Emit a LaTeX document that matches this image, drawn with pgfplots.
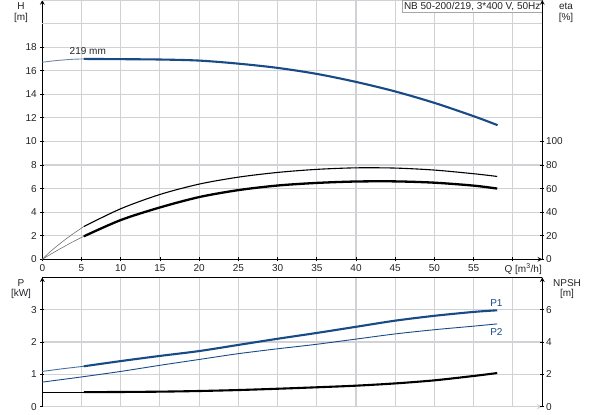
\documentclass[border=0pt]{standalone}
\usepackage{fontspec}
\setmainfont{Liberation Sans}
\usepackage{pgfplots}
\pgfplotsset{compat=1.18}

\definecolor{gridgray}{RGB}{208,210,213}
\definecolor{curveblue}{RGB}{24,74,134}
\definecolor{thinblue}{RGB}{110,135,170}
\definecolor{txt}{RGB}{35,35,40}

\pgfplotsset{
  pump/.style={
    scale only axis, width=500bp,
    xmin=0, xmax=63.75,
    tick align=outside, major tick length=4bp,
    tick style={black, line width=0.8bp},
    major grid style={line width=1.1bp, color=gridgray},
    ticklabel style={font=\fontsize{10bp}{12bp}\selectfont, text=txt},
    /pgf/number format/assume math mode=true,
    axis line style={-, line width=1.1bp, black},
    clip=false,
    every axis plot/.append style={smooth, tension=0.5},
  },
  thick curve/.style={line width=2.1bp},
  thin curve/.style={line width=0.9bp},
}

\begin{document}
\begin{tikzpicture}
\useasboundingbox (0,0) rectangle (593bp,415bp);
\tikzset{every node/.style={font=\fontsize{10bp}{12bp}\selectfont, text=txt}}

% ---------- upper panel: head and efficiency ----------
\begin{axis}[pump, at={(42.3bp,155.7bp)}, anchor=south west, height=259.3bp,
  ymin=0, ymax=22,
  axis x line=bottom, axis y line=left,
  xtick={0,5,...,60}, xticklabels={0,5,10,15,20,25,30,35,40,45,50,55,{}},
  ytick={0,2,...,18},
  extra y ticks={20}, extra y tick labels={},
  extra y tick style={major tick length=0pt},
  grid=major]
\draw[gridgray, line width=1.5bp] (rel axis cs:0,1) -- (rel axis cs:1,1);
% H curve
\addplot[thin curve, thinblue] coordinates {
  (0,16.72) (1.5,16.84) (3,16.93) (4.2,16.98) (5.3,17.0)
};
\addplot[thick curve, curveblue] coordinates {
  (5.3,17.0) (10,16.98) (15,16.95) (20,16.86) (25,16.6) (30,16.24)
  (35,15.73) (40,15.05) (45,14.24) (50,13.27) (55,12.14) (58.05,11.38)
};
\node[anchor=south] at (axis cs:5.8,17.05) {219 mm};
\node[anchor=north east, draw=gray!70, fill=white, inner sep=1.6bp,
  line width=0.6bp] at (rel axis cs:1,1) {NB 50-200/219, 3*400 V, 50Hz};
\node[anchor=west] at (axis cs:58.5,-0.83) {Q [m\textsuperscript{3}/h]};
\end{axis}

% efficiency, right scale
\begin{axis}[pump, at={(42.3bp,155.7bp)}, anchor=south west, height=259.3bp,
  ymin=0, ymax=220,
  axis x line=none, axis y line=right,
  ytick={0,20,...,100},
  yticklabel style={anchor=west, inner sep=1.5bp}]
\addplot[line width=0.6bp, black!55] coordinates {
  (0,0) (1,6.4) (2.5,14.6) (4,22) (5.3,27.8)
};
\addplot[line width=1.1bp, black] coordinates {
  (5.3,27.8) (10,42.9) (15,55) (20,63.8) (25,69.7) (30,73.7)
  (35,76.3) (40,77.6) (45,77.4) (50,75.7) (55,72.6) (58,70.3)
};
\addplot[line width=0.6bp, black!55] coordinates {
  (0,0) (1.5,6) (3,11.6) (4.2,15.9) (5.3,19.5)
};
\addplot[line width=2.3bp, black] coordinates {
  (5.3,19.5) (10,33.3) (15,44) (20,52.8) (25,58.7) (30,62.6)
  (35,64.8) (40,66.0) (45,66.1) (50,65.0) (55,62.5) (58,60.0)
};
\end{axis}

% ---------- lower panel: power and NPSH ----------
\begin{axis}[pump, at={(42.3bp,8.3bp)}, anchor=south west, height=129.4bp,
  ymin=0, ymax=4,
  axis x line=bottom, axis y line=left,
  x axis line style={gridgray, line width=1.5bp},
  xtick={0,5,...,60}, xticklabels={}, xtick style={draw=none},
  ytick={0,1,2,3},
  grid=major]
\draw[black, line width=1.1bp] (rel axis cs:0,1) -- (rel axis cs:1,1);
% P1
\addplot[thin curve, curveblue!80] coordinates {
  (0,1.09) (2.5,1.17) (5.3,1.25)
};
\addplot[thick curve, curveblue] coordinates {
  (5.3,1.25) (10,1.41) (15,1.57) (20,1.72) (25,1.91) (30,2.10)
  (35,2.28) (40,2.47) (45,2.66) (50,2.81) (55,2.93) (58,2.98)
};
% P2
\addplot[thin curve, curveblue] coordinates {
  (0,0.76) (5,0.92) (10,1.09) (15,1.28) (20,1.46) (25,1.64) (30,1.79)
  (35,1.93) (40,2.09) (45,2.25) (50,2.38) (55,2.49) (58,2.56)
};
\node[text=curveblue] at (axis cs:57.9,3.2) {P1};
\node[text=curveblue] at (axis cs:57.9,2.32) {P2};
\end{axis}

% NPSH, right scale
\begin{axis}[pump, at={(42.3bp,8.3bp)}, anchor=south west, height=129.4bp,
  ymin=0, ymax=8,
  axis x line=none, axis y line=right,
  ytick={0,2,4,6},
  yticklabel style={anchor=west, inner sep=1.5bp}]
\addplot[line width=0.9bp, black] coordinates {
  (0,0.89) (5.3,0.89)
};
\addplot[line width=2.1bp, black] coordinates {
  (5.3,0.9) (10,0.91) (15,0.93) (20,0.97) (25,1.03) (30,1.11)
  (35,1.2) (40,1.3) (45,1.44) (50,1.63) (55,1.9) (58,2.08)
};
\end{axis}

% axis titles
\node at (21bp,409bp) {H};
\node at (21bp,397bp) {[m]};
\node at (566bp,409bp) {eta};
\node at (566bp,397bp) {[\%]};
\node at (21bp,132bp) {P};
\node at (21bp,121bp) {[kW]};
\node at (567bp,132bp) {NPSH};
\node at (567bp,121bp) {[m]};
\end{tikzpicture}
\end{document}
